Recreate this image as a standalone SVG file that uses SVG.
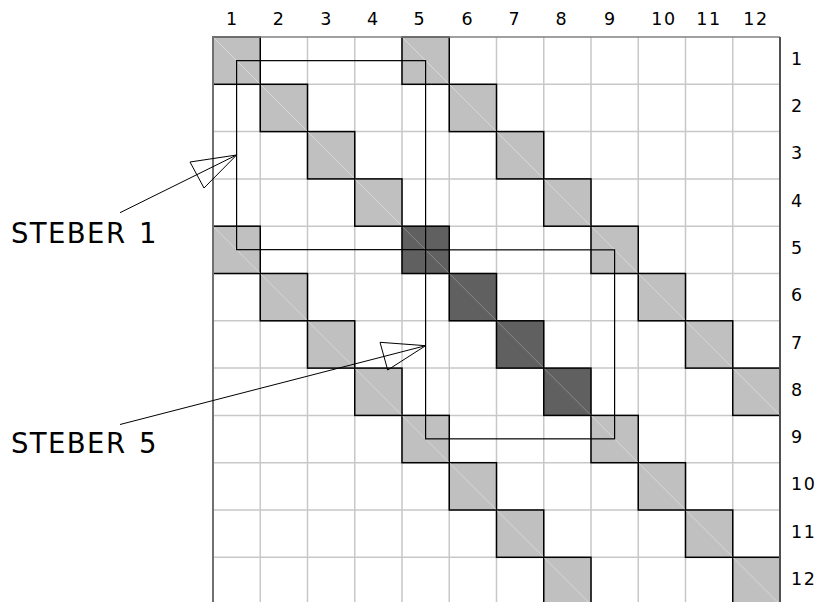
<svg xmlns="http://www.w3.org/2000/svg" width="819" height="602" viewBox="0 0 819 602">
<style>
.grid{stroke:#c8c8c8;stroke-width:1.5;fill:none}
.lc{fill:#c0c0c0;stroke:#000;stroke-width:1.5}
.dc{fill:#606060;stroke:#000;stroke-width:1.5}
.dl{stroke:#d8d8d8;stroke-width:1}
.dd{stroke:#8a8a8a;stroke-width:1}
.ov{fill:none;stroke:#000;stroke-width:1.2}
.ar{fill:none;stroke:#000;stroke-width:1}
.num{font-family:"DejaVu Sans",sans-serif;font-size:17.5px;fill:#000}
.lab{font-family:"DejaVu Sans",sans-serif;font-size:27.5px;fill:#000}
</style>
<defs>
<g id="light"><rect class="lc" x="0" y="0" width="47.25" height="47.3"/><line class="dl" x1="0.8" y1="0.8" x2="46.5" y2="46.5"/></g>
<g id="dark"><rect class="dc" x="0" y="0" width="47.25" height="47.3"/><line class="dd" x1="0.8" y1="0.8" x2="46.5" y2="46.5"/></g>
</defs>
<rect width="819" height="602" fill="#fff"/>
<g id="grid">
<path class="grid" d="M260.25 37V605M307.5 37V605M354.75 37V605M402 37V605M449.25 37V605M496.5 37V605M543.75 37V605M591 37V605M638.25 37V605M685.5 37V605M732.75 37V605M213 84.3H780M213 131.6H780M213 178.9H780M213 226.2H780M213 273.5H780M213 320.8H780M213 368.1H780M213 415.4H780M213 462.7H780M213 510H780M213 557.3H780"/>
</g>
<g id="cells">
<use href="#light" x="213" y="37"/>
<use href="#light" x="402" y="37"/>
<use href="#light" x="260.25" y="84.3"/>
<use href="#light" x="449.25" y="84.3"/>
<use href="#light" x="307.5" y="131.6"/>
<use href="#light" x="496.5" y="131.6"/>
<use href="#light" x="354.75" y="178.9"/>
<use href="#light" x="543.75" y="178.9"/>
<use href="#light" x="213" y="226.2"/>
<use href="#light" x="591" y="226.2"/>
<use href="#light" x="260.25" y="273.5"/>
<use href="#light" x="638.25" y="273.5"/>
<use href="#light" x="307.5" y="320.8"/>
<use href="#light" x="685.5" y="320.8"/>
<use href="#light" x="354.75" y="368.1"/>
<use href="#light" x="732.75" y="368.1"/>
<use href="#light" x="402" y="415.4"/>
<use href="#light" x="591" y="415.4"/>
<use href="#light" x="449.25" y="462.7"/>
<use href="#light" x="638.25" y="462.7"/>
<use href="#light" x="496.5" y="510"/>
<use href="#light" x="685.5" y="510"/>
<use href="#light" x="543.75" y="557.3"/>
<use href="#light" x="732.75" y="557.3"/>
<use href="#dark" x="402" y="226.2"/>
<use href="#dark" x="449.25" y="273.5"/>
<use href="#dark" x="496.5" y="320.8"/>
<use href="#dark" x="543.75" y="368.1"/>
</g>
<g id="border">
<path d="M213 37V605" stroke="#707070" stroke-width="2" fill="none"/>
<path d="M213 37H780" stroke="#808080" stroke-width="1.5" fill="none"/>
<path d="M780 37V605" stroke="#505050" stroke-width="2" fill="none"/>
</g>
<g id="steber1"><rect class="ov" x="236.6" y="60.65" width="189" height="189"/></g>
<g id="steber5"><rect class="ov" x="425.6" y="249.85" width="189" height="189"/></g>
<g id="connectors">
<path class="ar" d="M120 212.7L236.6 155"/>
<path class="ar" d="M236.6 155L190 162L204 188Z"/>
<path class="ar" d="M120 424.5L425.6 345.7"/>
<path class="ar" d="M425.6 345.7L380 342.3L387.7 370Z"/>
</g>
<g id="labels">
<text class="lab" x="11" y="243.3"><tspan textLength="114" lengthAdjust="spacing">STEBER</tspan><tspan x="139">1</tspan></text>
<text class="lab" x="11" y="452.8"><tspan textLength="114" lengthAdjust="spacing">STEBER</tspan><tspan x="139">5</tspan></text>
</g>
<g id="colnums" text-anchor="middle">
<text class="num" x="231.5" y="25">1</text>
<text class="num" x="278.3" y="25">2</text>
<text class="num" x="325.7" y="25">3</text>
<text class="num" x="372.5" y="25">4</text>
<text class="num" x="419" y="25">5</text>
<text class="num" x="467" y="25">6</text>
<text class="num" x="514" y="25">7</text>
<text class="num" x="561" y="25">8</text>
<text class="num" x="609.5" y="25">9</text>
<text class="num" x="664" y="25" letter-spacing="1.5">10</text>
<text class="num" x="709" y="25" letter-spacing="1.5">11</text>
<text class="num" x="756" y="25" letter-spacing="1.5">12</text>
</g>
<g id="rownums">
<text class="num" x="791" y="64.5">1</text>
<text class="num" x="791" y="112">2</text>
<text class="num" x="791" y="159.3">3</text>
<text class="num" x="791" y="206.6">4</text>
<text class="num" x="791" y="253.9">5</text>
<text class="num" x="791" y="301.2">6</text>
<text class="num" x="791" y="348.5">7</text>
<text class="num" x="791" y="395.8">8</text>
<text class="num" x="791" y="443.1">9</text>
<text class="num" x="791" y="490.4" letter-spacing="1.5">10</text>
<text class="num" x="791" y="537.7" letter-spacing="1.5">11</text>
<text class="num" x="791" y="585" letter-spacing="1.5">12</text>
</g>
</svg>
